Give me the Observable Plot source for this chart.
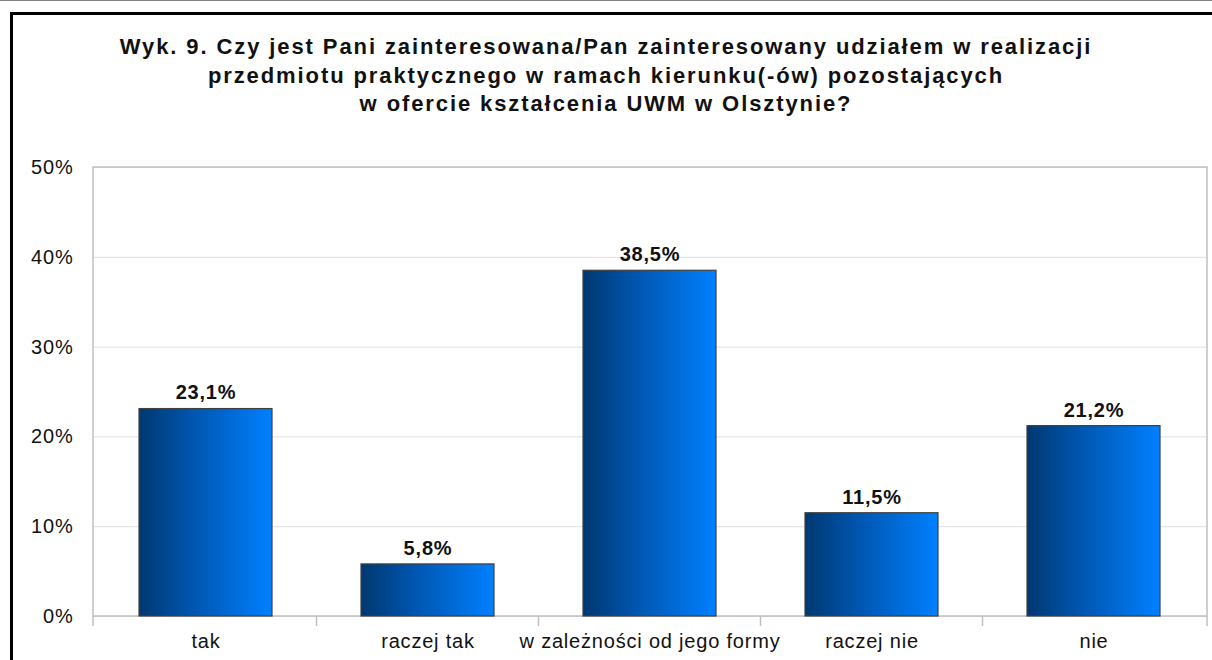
<!DOCTYPE html>
<html>
<head>
<meta charset="utf-8">
<script src="https://cdn.jsdelivr.net/npm/d3@7"></script>
<script src="https://cdn.jsdelivr.net/npm/@observablehq/plot@0.6"></script>
<style>
  html, body { margin: 0; padding: 0; background: #fff; }
  #page { position: relative; width: 1212px; height: 660px; overflow: hidden; font-family: "Liberation Sans", Arial, sans-serif; }
  #topline { position: absolute; left: 0; top: 0; width: 1212px; height: 1px; background: #808080; }
  #frame { position: absolute; left: 10px; top: 12px; width: 1220px; height: 700px; border: 3px solid #000; box-sizing: border-box; }
  #title { position: absolute; left: 0; width: 1212px; top: 33px; text-align: center; font-weight: bold; font-size: 22px; line-height: 28.5px; color: #111; letter-spacing: 1.9px; }
  #chart { position: absolute; left: 0; top: 140px; }
</style>
</head>
<body>
<div id="page">
  <div id="topline"></div>
  <div id="frame"></div>
  <div id="title">Wyk. 9. Czy jest Pani zainteresowana/Pan zainteresowany udziałem w realizacji<br>przedmiotu praktycznego w ramach kierunku(-ów) pozostających<br>w ofercie kształcenia UWM w Olsztynie?</div>
  <div id="chart"></div>
</div>
<script>
const categories = ["tak", "raczej tak", "w zależności od jego formy", "raczej nie", "nie"];
const values = [23.1, 5.8, 38.5, 11.5, 21.2];
const yTicks = [0, 10, 20, 30, 40, 50];

const data = categories.map((c, i) => ({category: c, value: values[i]}));
const fmt = v => v.toFixed(1).replace(".", ",") + "%";

const W = 1212, H = 520;
const mL = 93, mR = 5, mT = 27, mB = 44;

const plot = Plot.plot({
  width: W,
  height: H,
  marginLeft: mL,
  marginRight: mR,
  marginTop: mT,
  marginBottom: mB,
  style: { fontFamily: "Liberation Sans, Arial, sans-serif", fontSize: "20px", letterSpacing: "0.8px", background: "transparent", overflow: "visible" },
  x: { domain: categories, paddingInner: 0.4, paddingOuter: 0.2, label: null, axis: null },
  y: { domain: [0, 50], label: null, axis: null },
  marks: [
    Plot.ruleY(yTicks, { stroke: "#e0e0e0", strokeWidth: 1 }),
    Plot.axisY(yTicks, { tickSize: 0, tickPadding: 20, tickFormat: d => d + "%", fontSize: 20, fill: "#111", label: null }),
    Plot.barY(data, { x: "category", y: "value", fill: "url(#barGrad)", stroke: "#404040", strokeWidth: 1.2 }),
    Plot.text(data, { x: "category", y: "value", text: d => fmt(d.value), dy: -16, fontSize: 20, fontWeight: "bold", fill: "#111" }),
    Plot.axisX({ tickSize: 0, tickPadding: 17, fontSize: 20, fill: "#111", label: null })
  ]
});

// gradient defs
const svg = d3.select(plot);
const defs = svg.insert("defs", ":first-child");
const g = defs.append("linearGradient").attr("id", "barGrad").attr("x1", "0").attr("x2", "1").attr("y1", "0").attr("y2", "0");
g.append("stop").attr("offset", "0%").attr("stop-color", "#003870");
g.append("stop").attr("offset", "35%").attr("stop-color", "#0052a8");
g.append("stop").attr("offset", "100%").attr("stop-color", "#0080ff");

// plot frame: left, top, right borders + category dividers (from the scales)
const xs = plot.scale("x"), ys = plot.scale("y");
const bw = xs.bandwidth, step = xs.step;
const x0 = mL, x1 = W - mR;
const yTop = ys.apply(50), yBot = ys.apply(0);
const frame = svg.append("g").attr("fill", "none").attr("stroke", "#c0c0c0").attr("stroke-width", 1.5);
frame.append("path").attr("d", `M${x0},${yBot + 10}V${yTop}H${x1}V${yBot + 10}`);
frame.append("line").attr("x1", x0).attr("x2", x1).attr("y1", yBot).attr("y2", yBot);
categories.forEach((c, i) => {
  if (i === 0) return;
  const bx = xs.apply(c) - (step - bw) / 2;
  frame.append("line").attr("x1", bx).attr("x2", bx).attr("y1", yBot).attr("y2", yBot + 10);
});
svg.selectAll("g[aria-label='bar'], g[aria-label='text']").raise();

document.getElementById("chart").appendChild(plot);
</script>
</body>
</html>
